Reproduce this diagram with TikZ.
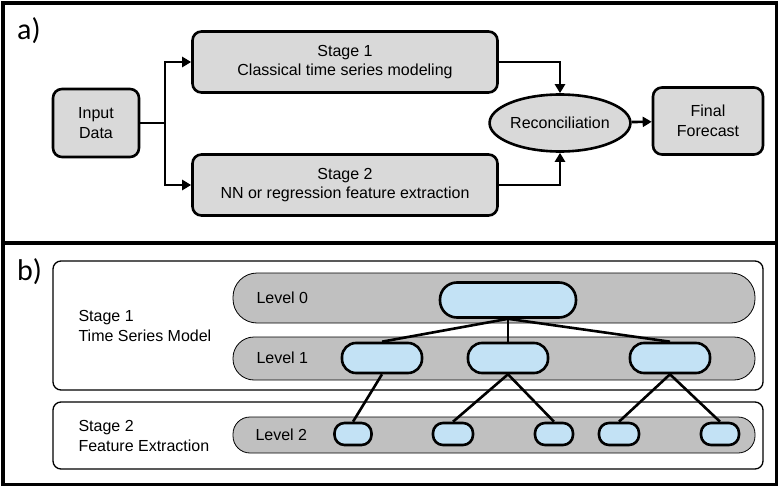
\documentclass[tikz,border=0pt]{standalone}
\usepackage{fontspec}
\setmainfont{Liberation Sans}
\newfontfamily\panelfont{Carlito}
\usetikzlibrary{arrows.meta,shapes.geometric}
\definecolor{boxgray}{HTML}{D9D9D9}
\definecolor{bandgray}{HTML}{C0C0C0}
\definecolor{nodeblue}{HTML}{C3E2F5}
\tikzset{x=1pt, y=-1pt, font=\fontsize{16}{19.5}\selectfont,
  block/.style={draw, line width=2.6pt, fill=boxgray, rounded corners=9pt, align=center, inner sep=0pt},
  arr/.style={line width=2.6pt, -{Triangle[length=9pt,width=10pt]}},
  stagebox/.style={draw, line width=1.3pt, rounded corners=8pt},
  band/.style={draw, line width=0.8pt, fill=bandgray, inner sep=0pt},
  leaf/.style={draw, line width=2.6pt, fill=nodeblue, inner sep=0pt},
  link/.style={line width=2.6pt},
  panel/.style={font=\panelfont\fontsize{30}{30}\selectfont, anchor=west, inner sep=0pt}}

\begin{document}
\begin{tikzpicture}
  \useasboundingbox (0,0) rectangle (780,487);
  \draw[line width=3.2pt] (3,3) rectangle (776.5,243);
  \draw[line width=3.2pt] (3,243) rectangle (776.5,484.5);

  \node[panel] (pa) at (17,31)  {a)};
  \node[panel] (pb) at (17,272) {b)};

  \node[block, minimum width=86, minimum height=68]  (input) at (96,123)  {Input\\Data};
  \node[block, minimum width=305, minimum height=61] (s1)    at (345,62)  {Stage 1\\Classical time series modeling};
  \node[block, minimum width=305, minimum height=61] (s2)    at (345,185) {Stage 2\\NN or regression feature extraction};
  \node[block, ellipse, minimum width=140, minimum height=57] (rec) at (560,123) {Reconciliation};
  \node[block, minimum width=110, minimum height=67] (final) at (708,121) {Final\\Forecast};
  \coordinate (split) at (165,123);

  \draw[link] (input) -- (split);
  \draw[arr] (split) |- (s1);
  \draw[arr] (split) |- (s2);
  \draw[arr] (s1) -| (rec);
  \draw[arr] (s2) -| (rec);
  \draw[arr] (rec) -- (final);

  \node[stagebox, minimum width=710, minimum height=129] (box1) at (408,325.5) {};
  \node[stagebox, minimum width=710, minimum height=67]  (box2) at (408,435.5) {};
  \node[anchor=west, align=left] (t1) at (75,326) {Stage 1\\Time Series Model};
  \node[anchor=west, align=left] (t2) at (75,436) {Stage 2\\Feature Extraction};

  \node[band, minimum width=522, minimum height=50, rounded corners=24pt] (lv0) at (494,298)   {};
  \node[band, minimum width=522, minimum height=43, rounded corners=21pt] (lv1) at (494,358.5) {};
  \node[band, minimum width=522, minimum height=36, rounded corners=17pt] (lv2) at (494,435)   {};
  \node[anchor=west] (n0) at (253,298) {Level 0};
  \node[anchor=west] (n1) at (253,358) {Level 1};
  \node[anchor=west] (n2) at (252,435) {Level 2};

  \node[leaf, minimum width=136, minimum height=35, rounded corners=17pt] (top) at (508,300) {};
  \node[leaf, minimum width=80, minimum height=30, rounded corners=14pt] (m1) at (382,358) {};
  \node[leaf, minimum width=80, minimum height=30, rounded corners=14pt] (m2) at (508,358) {};
  \node[leaf, minimum width=80, minimum height=30, rounded corners=14pt] (m3) at (670,358) {};
  \node[leaf, minimum width=37, minimum height=22, rounded corners=10pt] (b1) at (353,434) {};
  \node[leaf, minimum width=40, minimum height=22, rounded corners=10pt] (b2) at (453,434) {};
  \node[leaf, minimum width=38, minimum height=22, rounded corners=10pt] (b3) at (554,434) {};
  \node[leaf, minimum width=40, minimum height=22, rounded corners=10pt] (b4) at (619,434) {};
  \node[leaf, minimum width=38, minimum height=22, rounded corners=10pt] (b5) at (720,434) {};

  \draw[link] (top.south) -- (m1.north);
  \draw[link] (top.south) -- (m2.north);
  \draw[link] (top.south) -- (m3.north);
  \draw[link] (m1.south) -- (b1.north);
  \draw[link] (m2.south) -- (b2.north);
  \draw[link] (m2.south) -- (b3.north);
  \draw[link] (m3.south) -- (b4.north);
  \draw[link] (m3.south) -- (b5.north);
\end{tikzpicture}
\end{document}
